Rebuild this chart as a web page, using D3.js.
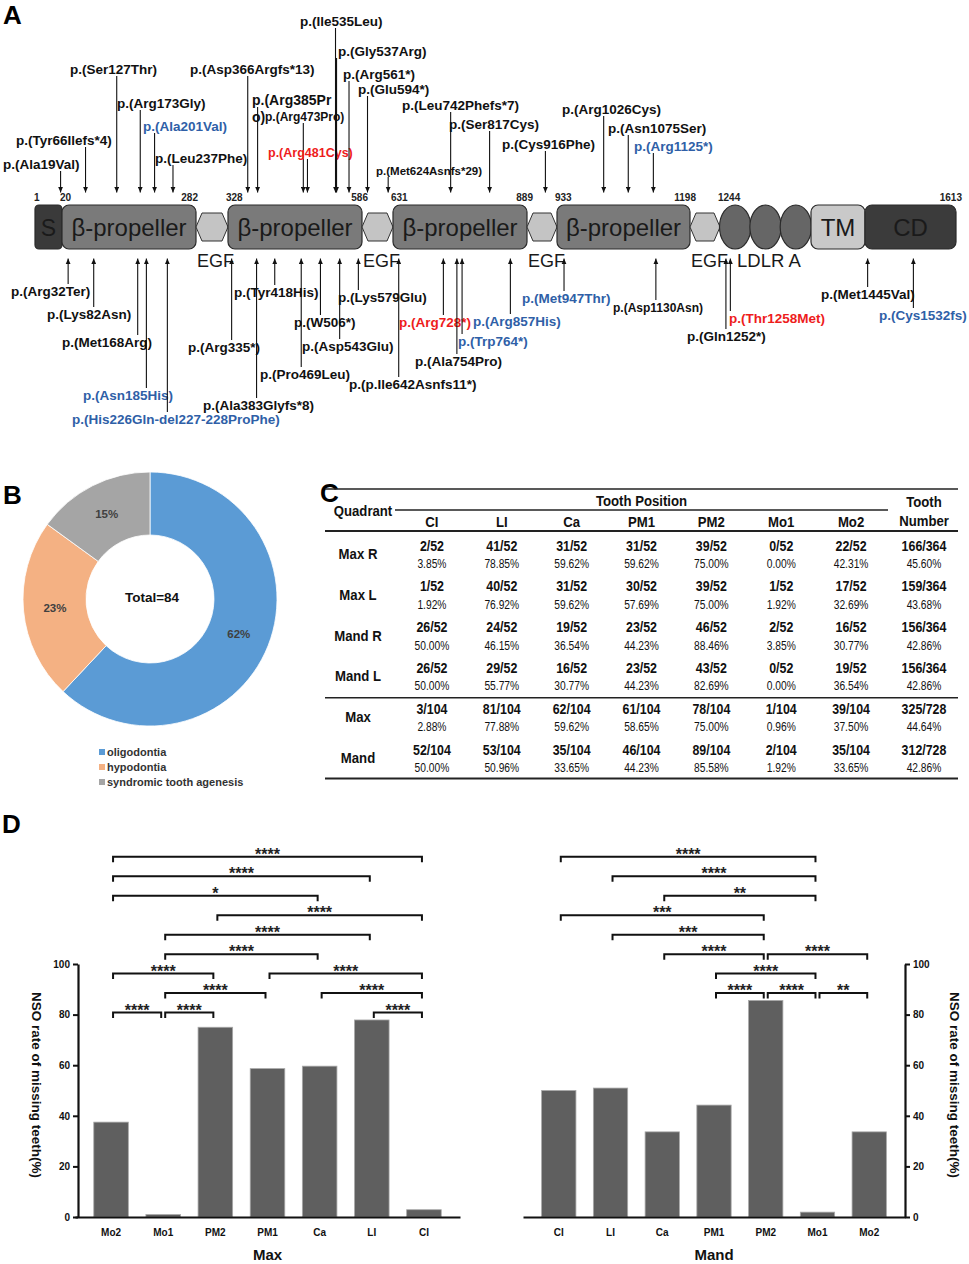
<!DOCTYPE html>
<html><head><meta charset="utf-8">
<script src="https://cdn.jsdelivr.net/npm/d3@7/dist/d3.min.js"></script>
<style>
body{margin:0;background:#fff;}
svg{display:block;font-family:"Liberation Sans",Arial,sans-serif;}
</style></head><body>
<svg id="fig" width="969" height="1264"></svg>
<script>
// ================= DATA =================
// ---- Panel A : LRP6 protein domains (residue numbers) ----
const residueBreaks = [1, 20, 282, 328, 586, 631, 889, 933, 1198, 1244, 1440, 1613];
const domainTypes  = ["S","prop","egf","prop","egf","prop","egf","prop","egf","ldlr","ldlr","ldlr","tm","cd"];
const domainStart  = [1, 20, 282, 328, 586, 631, 889, 933, 1198, 1244, 1285, 1326, 1367, 1440];
const domainEnd    = [20, 282, 328, 586, 631, 889, 933, 1198, 1244, 1285, 1326, 1367, 1440, 1613];
const domainLabels = ["S","β-propeller","","β-propeller","","β-propeller","","β-propeller","","","","","TM","CD"];
const startNumbers = [1, 20, 328, 631, 933, 1244];
const endNumbers   = [282, 586, 889, 1198, 1613];
const egfResidues  = [282, 586, 889, 1198];

const topNames = ["p.(Ala19Val)","p.(Tyr66Ilefs*4)","p.(Ser127Thr)","p.(Arg173Gly)","p.(Ala201Val)","p.(Leu237Phe)","p.(Asp366Argfs*13)","p.(Arg385Pr|o)","p.(Arg473Pro)","p.(Arg481Cys)","p.(Ile535Leu)","p.(Gly537Arg)","p.(Arg561*)","p.(Glu594*)","p.(Met624Asnfs*29)","p.(Leu742Phefs*7)","p.(Ser817Cys)","p.(Cys916Phe)","p.(Arg1026Cys)","p.(Asn1075Ser)","p.(Arg1125*)"];
const topResidues = [19,66,127,173,201,237,366,385,473,481,535,537,561,594,624,742,817,916,1026,1075,1125];
const topGroups = ["k","k","k","k","b","k","k","k","k","r","k","k","k","k","k","k","k","k","k","k","b"];

const botNames = ["p.(Arg32Ter)","p.(Lys82Asn)","p.(Met168Arg)","p.(Asn185His)","p.(His226Gln-del227-228ProPhe)","p.(Arg335*)","p.(Ala383Glyfs*8)","p.(Tyr418His)","p.(Pro469Leu)","p.(W506*)","p.(Asp543Glu)","p.(Lys579Glu)","p.(p.Ile642Asnfs11*)","p.(Arg728*)","p.(Ala754Pro)","p.(Trp764*)","p.(Arg857His)","p.(Met947Thr)","p.(Asp1130Asn)","p.(Gln1252*)","p.(Thr1258Met)","p.(Met1445Val)","p.(Cys1532fs)"];
const botResidues = [32,82,168,185,226,335,383,418,469,506,543,579,642,728,754,764,857,947,1130,1252,1258,1445,1532];
const botGroups = ["k","k","k","b","b","k","k","k","k","k","k","k","k","r","k","b","b","b","k","k","r","k","b"];

// ---- Panel B : phenotype share ----
const pieCategories = ["oligodontia","hypodontia","syndromic tooth agenesis"];
const pieValues = [62, 23, 15];
const pieTotal = 84;

// ---- Panel C : table ----
const toothCols = ["CI","LI","Ca","PM1","PM2","Mo1","Mo2"];
const quadrants = ["Max R","Max L","Mand R","Mand L","Max","Mand"];
const missMaxR  = [2,41,31,31,39,0,22];
const missMaxL  = [1,40,31,30,39,1,17];
const missMandR = [26,24,19,23,46,2,16];
const missMandL = [26,29,16,23,43,0,19];
const missMax   = [3,81,62,61,78,1,39];
const missMand  = [52,53,35,46,89,2,35];
const rowDenoms = [52,52,52,52,104,104];
const toothMissing = [166,159,156,156,325,312];
const toothTotal   = [364,364,364,364,728,728];

// ---- Panel D : NSO rate of missing teeth (%) ----
const maxOrder  = ["Mo2","Mo1","PM2","PM1","Ca","LI","CI"];
const maxRates  = [37.50, 0.96, 75.00, 58.65, 59.62, 77.88, 2.88];
const mandOrder = ["CI","LI","Ca","PM1","PM2","Mo1","Mo2"];
const mandRates = [50.00, 50.96, 33.65, 44.23, 85.58, 1.92, 33.65];
const yTicks = [0,20,40,60,80,100];
const maxSigA = ["Mo2","Mo2","Mo2","PM2","Mo1","Mo1","Mo2","PM1","Mo1","Ca","Mo2","Mo1","LI"];
const maxSigB = ["CI","LI","Ca","CI","LI","Ca","PM2","CI","PM1","CI","Mo1","PM2","CI"];
const maxSigStars = ["****","****","*","****","****","****","****","****","****","****","****","****","****"];
const mandSigA = ["CI","LI","Ca","CI","LI","Ca","PM2","PM1","PM1","PM2","Mo1"];
const mandSigB = ["Mo1","Mo1","Mo1","PM2","PM2","PM2","Mo2","Mo1","PM2","Mo1","Mo2"];
const mandSigStars = ["****","****","**","***","***","****","****","****","****","****","**"];

// ================= LAYOUT =================
const breakPx = [35, 62, 196, 228, 362, 393, 527, 557, 690, 720, 865, 956];
const topLabelAt = [[3,169],[16,145],[70,74],[117,108],[143,131],[155,163],[190,74],[252,105],[265,121],[268,157],[300,26],[338,56],[343,79],[358,94],[376,175],[402,110],[449,129],[502,149],[562,114],[608,133],[634,151]];
const topLabelSize = [13.5,13.5,13.5,13.5,13.5,13.5,13.5,14,12,12.5,13.5,13.5,13.5,13.5,11.5,13.5,13.5,13.5,13.5,13.5,13.5];
const botLabelAt = [[11,296],[47,319],[62,347],[83,400],[72,424],[188,352],[203,410],[234,297],[260,379],[294,327],[302,351],[338,302],[349,389],[399,327],[415,366],[458,346],[473,326],[522,303],[613,312],[687,341],[729,323],[821,299],[879,320]];
const botLabelSize = [13.5,13.5,13.5,13.5,13.5,13.5,13.5,13.5,13.5,13.5,13.5,13.5,13.5,13.5,13.5,13.5,13.5,13.5,12,13.5,13.5,13.5,13.5];
const maxSigLevel  = [9,8,7,6,5,4,3,3,2,2,1,1,1];
const mandSigLevel = [9,8,7,6,5,4,4,3,2,2,2];

const colorOf = {k:"#111", b:"#2f5fa7", r:"#ee1c1c"};
const svg = d3.select("#fig");

// ================= PANEL A =================
const xr = d3.scaleLinear().domain(residueBreaks).range(breakPx);
const boxTop = 205, boxBot = 249, boxMid = (boxTop+boxBot)/2;
const gA = svg.append("g");
gA.append("text").attr("x",3).attr("y",24).attr("font-size",26).attr("font-weight","bold").text("A");

const domains = domainTypes.map((t,i)=>({t, s:domainStart[i], e:domainEnd[i], label:domainLabels[i]}));
const fills = {S:"#3a3a3a", prop:"#7a7a7a", egf:"#c4c4c4", ldlr:"#666", tm:"#c9c9c9", cd:"#3b3b3b"};
domains.forEach(d=>{
  const x0 = xr(d.s), x1 = xr(d.e);
  if (d.t==="egf") {
    const t = boxTop+8, b = boxBot-8, c = 6;
    gA.append("polygon")
      .attr("points",[[x0,boxMid],[x0+c,t],[x1-c,t],[x1,boxMid],[x1-c,b],[x0+c,b]].map(p=>p.join(",")).join(" "))
      .attr("fill",fills.egf).attr("stroke","#333").attr("stroke-width",1);
  } else if (d.t==="ldlr") {
    gA.append("ellipse").attr("cx",(x0+x1)/2).attr("cy",boxMid)
      .attr("rx",(x1-x0)/2+0.5).attr("ry",(boxBot-boxTop)/2)
      .attr("fill",fills.ldlr).attr("stroke","#2a2a2a").attr("stroke-width",1.2);
  } else {
    gA.append("rect").attr("x",x0).attr("y",boxTop).attr("width",x1-x0).attr("height",boxBot-boxTop)
      .attr("rx",d.t==="S"?4:7).attr("fill",fills[d.t]).attr("stroke","#2a2a2a").attr("stroke-width",1.2);
    if (d.label) gA.append("text").attr("x",(x0+x1)/2).attr("y",boxMid+8.5).attr("text-anchor","middle")
      .attr("font-size", d.t==="S"?23:24).attr("fill","#1a1a1a").text(d.label);
  }
});
egfResidues.forEach(r=>{
  gA.append("text").attr("x",xr(r)+1).attr("y",267).attr("font-size",18).attr("fill","#1a1a1a").text("EGF");
});
gA.append("text").attr("x",xr(1244)+17).attr("y",267).attr("font-size",18.5).attr("fill","#1a1a1a").text("LDLR A");

startNumbers.forEach(n=>{
  gA.append("text").attr("x",n===1?xr(n)-1:xr(n)-2).attr("y",200.5).attr("font-size",10).attr("font-weight","bold").attr("fill","#222").text(n);
});
endNumbers.forEach(n=>{
  gA.append("text").attr("x",xr(n)+(n===282?2:6)).attr("y",200.5).attr("text-anchor","end").attr("font-size",10).attr("font-weight","bold").attr("fill","#222").text(n);
});

const defs = svg.append("defs");
defs.append("marker").attr("id","ah").attr("viewBox","0 -3 6 6").attr("refX",6).attr("refY",0)
  .attr("markerWidth",5.5).attr("markerHeight",5.5).attr("markerUnits","userSpaceOnUse").attr("orient","auto")
  .append("path").attr("d","M0,-2.6L6,0L0,2.6Z").attr("fill","#111");

topNames.forEach((name,i)=>{
  const [lx,ly] = topLabelAt[i];
  const parts = name.split("|");
  const t = gA.append("text").attr("font-size",topLabelSize[i]).attr("font-weight","bold").attr("fill",colorOf[topGroups[i]]);
  parts.forEach((p,j)=> t.append("tspan").attr("x",lx).attr("y",ly+j*17).text(p));
  const xx = xr(topResidues[i]);
  gA.append("line").attr("x1",xx).attr("x2",xx).attr("y1",ly+2).attr("y2",192.5)
    .attr("stroke","#111").attr("stroke-width",1.1).attr("marker-end","url(#ah)");
});
botNames.forEach((name,i)=>{
  const [lx,ly] = botLabelAt[i];
  const xx = xr(botResidues[i]);
  gA.append("line").attr("x1",xx).attr("x2",xx).attr("y1",ly-12).attr("y2",258.5)
    .attr("stroke","#111").attr("stroke-width",1.1).attr("marker-end","url(#ah)");
  gA.append("text").attr("x",lx).attr("y",ly).attr("font-size",botLabelSize[i]).attr("font-weight","bold")
    .attr("fill",colorOf[botGroups[i]]).text(name);
});

// ================= PANEL B =================
const gB = svg.append("g");
gB.append("text").attr("x",3).attr("y",504).attr("font-size",26).attr("font-weight","bold").text("B");
const pieColors = d3.scaleOrdinal().domain(pieCategories).range(["#5b9bd5","#f4b183","#a5a5a5"]);
const pie = d3.pie().sort(null).value(d=>d.v);
const pieData = pie(pieCategories.map((c,i)=>({c, v:pieValues[i]})));
const arc = d3.arc().innerRadius(64).outerRadius(127);
const labelArc = d3.arc().innerRadius(95.5).outerRadius(95.5);
const pg = gB.append("g").attr("transform","translate(150,599)");
pg.selectAll("path").data(pieData).join("path").attr("d",arc).attr("fill",d=>pieColors(d.data.c)).attr("stroke","#fff").attr("stroke-width",0.8);
pg.selectAll("text.pl").data(pieData).join("text").attr("class","pl")
  .attr("transform",d=>`translate(${labelArc.centroid(d)})`).attr("dy","0.35em").attr("text-anchor","middle")
  .attr("font-size",11.5).attr("font-weight","bold").attr("fill","#404040").text(d=>d.data.v+"%");
pg.append("text").attr("x",2).attr("y",-2).attr("dy","0.35em").attr("text-anchor","middle").attr("font-size",13.5).attr("font-weight","bold").attr("fill","#111").text("Total="+pieTotal);
const lg = gB.append("g");
pieCategories.forEach((c,i)=>{
  lg.append("rect").attr("x",99).attr("y",749+i*15).attr("width",6).attr("height",6).attr("fill",pieColors(c));
  lg.append("text").attr("x",107).attr("y",756+i*15).attr("font-size",11).attr("font-weight","bold").attr("fill","#333").text(c);
});

// ================= PANEL C =================
const gC = svg.append("g");
gC.append("text").attr("x",320).attr("y",502).attr("font-size",26).attr("font-weight","bold").text("C");
const colX = d3.scaleBand().domain(toothCols).range([397,886]);
const rowY = d3.scaleBand().domain(quadrants).range([533.6,778.4]);
const tableMiss = [missMaxR,missMaxL,missMandR,missMandL,missMax,missMand];
const tnX = 924, quadX = 358;
const rule = (x1,x2,y,w)=>gC.append("line").attr("x1",x1).attr("x2",x2).attr("y1",y).attr("y2",y).attr("stroke","#222").attr("stroke-width",w);
rule(325,958,489,1.5);
rule(395,888,510,1.3);
rule(325,958,531,2);
rule(325,958,rowY("Max")+1,1.5);
rule(325,958,778.5,2);
// condensed text (the reference uses a narrow face)
const tc = (x,y,txt,size,bold,sx)=>gC.append("text")
  .attr("transform",`translate(${x},${y}) scale(${sx||0.8},1)`)
  .attr("text-anchor","middle").attr("font-size",size).attr("font-weight",bold?"bold":"normal").attr("fill","#111").text(txt);
tc((397+886)/2,506,"Tooth Position",15.5,true,0.85);
tc(quadX+5,516,"Quadrant",15.5,true,0.85);
tc(tnX,507,"Tooth",15.5,true,0.85);
tc(tnX,526,"Number",15.5,true,0.85);
toothCols.forEach(c=>tc(colX(c)+colX.bandwidth()/2,527,c,15.5,true,0.85));
quadrants.forEach((q,r)=>{
  const cy = rowY(q)+rowY.bandwidth()/2;
  tc(quadX,cy+5,q,15.5,true,0.85);
  toothCols.forEach((c,j)=>{
    const cx = colX(c)+colX.bandwidth()/2;
    const m = tableMiss[r][j], d = rowDenoms[r];
    tc(cx,cy-3.5,m+"/"+d,15.5,true,0.8);
    tc(cx,cy+14,(m/d*100).toFixed(2)+"%",12.5,false,0.82);
  });
  tc(tnX,cy-3.5,toothMissing[r]+"/"+toothTotal[r],15.5,true,0.8);
  tc(tnX,cy+14,(toothMissing[r]/toothTotal[r]*100).toFixed(2)+"%",12.5,false,0.82);
});

// ================= PANEL D =================
const gD = svg.append("g");
gD.append("text").attr("x",2).attr("y",833).attr("font-size",26).attr("font-weight","bold").text("D");
const y = d3.scaleLinear().domain([0,100]).range([1217,964]);
const sigValue = lvl => 80.8 + (lvl-1)*7.7;

function barPanel(order, rates, xRange, axisX, side, title, sigA, sigB, sigStars, sigLevel, ylabX) {
  const g = gD.append("g");
  const x = d3.scaleBand().domain(order).range(xRange).paddingInner(0.337).paddingOuter(0.36);
  g.selectAll("rect.bar").data(order).join("rect").attr("class","bar")
    .attr("x",d=>x(d)).attr("width",x.bandwidth())
    .attr("y",(d,i)=>y(rates[i])).attr("height",(d,i)=>y(0)-y(rates[i]))
    .attr("fill","#5f5f5f").attr("stroke","#a8a8a8").attr("stroke-width",0.8);
  const xa = g.append("g").attr("transform",`translate(0,${y(0)})`)
    .call(d3.axisBottom(x).tickSize(0).tickPadding(12));
  xa.select(".domain").attr("stroke","#111").attr("stroke-width",2.2);
  xa.selectAll("text").attr("font-size",10).attr("font-weight","bold").attr("fill","#111").attr("font-family","Liberation Sans, Arial");
  const axis = side==="left" ? d3.axisLeft(y) : d3.axisRight(y);
  const ya = g.append("g").attr("transform",`translate(${axisX},0)`)
    .call(axis.tickValues(yTicks).tickSize(5).tickSizeOuter(0).tickPadding(3));
  ya.select(".domain").attr("stroke","#111").attr("stroke-width",2.2);
  ya.selectAll(".tick line").attr("stroke","#111").attr("stroke-width",2);
  ya.selectAll("text").attr("font-size",10).attr("font-weight","bold").attr("fill","#111").attr("font-family","Liberation Sans, Arial");
  g.append("text").attr("x",(xRange[0]+xRange[1])/2).attr("y",1260).attr("text-anchor","middle")
    .attr("font-size",15).attr("font-weight","bold").attr("fill","#111").text(title);
  g.append("text").attr("transform",`translate(${ylabX},1085) rotate(90)`).attr("text-anchor","middle")
    .attr("font-size",13.5).attr("font-weight","bold").attr("fill","#111").text("NSO rate of missing teeth(%)");
  const cx = k => x(k)+x.bandwidth()/2;
  sigA.forEach((a,i)=>{
    const b = sigB[i];
    const x1 = Math.min(cx(a),cx(b))+2, x2 = Math.max(cx(a),cx(b))-2;
    const yy = y(sigValue(sigLevel[i]));
    g.append("path").attr("d",`M${x1},${yy+5.5}V${yy}H${x2}V${yy+5.5}`)
      .attr("fill","none").attr("stroke","#111").attr("stroke-width",2);
    g.append("text").attr("x",(x1+x2)/2).attr("y",yy+3).attr("text-anchor","middle")
      .attr("font-size",16).attr("font-weight","bold").attr("fill","#222").text(sigStars[i]);
  });
}
barPanel(maxOrder, maxRates, [75,460], 78, "left", "Max", maxSigA, maxSigB, maxSigStars, maxSigLevel, 32);
barPanel(mandOrder, mandRates, [523,905], 905, "right", "Mand", mandSigA, mandSigB, mandSigStars, mandSigLevel, 950);
</script>
</body></html>
